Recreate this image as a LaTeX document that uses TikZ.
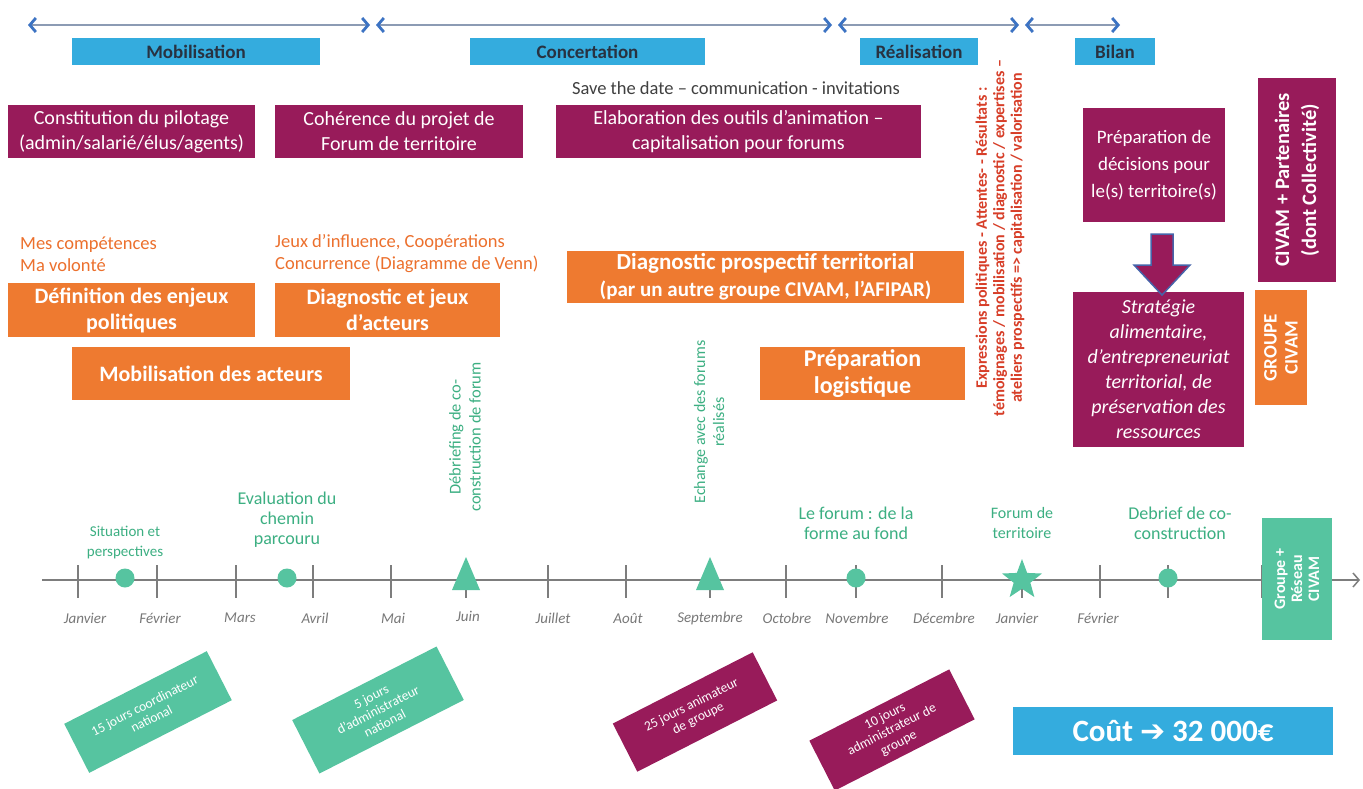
\documentclass[tikz,border=0pt]{standalone}
\usepackage{fontspec}
\setmainfont{Carlito}
\newfontfamily\dejavu{DejaVu Sans}
\usetikzlibrary{arrows.meta,shapes.geometric}
\definecolor{cpurple}{RGB}{152,27,90}
\definecolor{corange}{RGB}{238,122,48}
\definecolor{cblue}{RGB}{52,172,222}
\definecolor{cgreen}{RGB}{86,196,160}
\definecolor{cgtext}{RGB}{60,175,130}
\definecolor{cred}{RGB}{215,62,40}
\definecolor{cotext}{RGB}{236,112,45}
\definecolor{carrow}{RGB}{60,115,195}
\definecolor{cspan}{RGB}{140,155,180}
\definecolor{cline}{RGB}{125,125,125}
\definecolor{cmonth}{RGB}{120,120,120}
\definecolor{cphasetext}{RGB}{40,50,65}
\definecolor{cborder}{RGB}{70,100,170}
\begin{document}
\begin{tikzpicture}[x=1pt,y=-1pt,
  box/.style={inner sep=0pt, align=center, anchor=center},
  pbox/.style={box, fill=cpurple, text=white, font=\fontsize{20}{25}\selectfont},
  obox/.style={box, fill=corange, text=white, font=\fontsize{22}{26}\selectfont\bfseries},
  phase/.style={box, fill=cblue, text=cphasetext, minimum height=27pt, font=\fontsize{19}{22}\selectfont\bfseries},
  gtext/.style={text=cgtext, align=center, inner sep=0pt, font=\fontsize{15}{20}\selectfont},
  gbig/.style={gtext, font=\fontsize{18}{20}\selectfont},
  otext/.style={text=cotext, align=left, inner sep=0pt, anchor=west, font=\fontsize{18.5}{22}\selectfont},
  month/.style={text=cmonth, inner sep=0pt, font=\fontsize{15}{17}\selectfont\itshape},
  span/.style={draw=cspan, line width=1.2pt, {Straight Barb[length=6pt,width=14pt,line width=2.8pt,color=carrow]}-{Straight Barb[length=6pt,width=14pt,line width=2.8pt,color=carrow]}},
  tilt/.style={box, rotate=27, text=white, font=\fontsize{13.5}{15}\selectfont},
  marker/.style={fill=cgreen, draw=none},
  tick/.style={draw=cline, line width=1.2pt}
]
\useasboundingbox[fill=white] (0,0) rectangle (1363,788);

% top phase arrows
\coordinate (a0) at (28,25);  \coordinate (a1) at (370,25);
\coordinate (a2) at (376,25); \coordinate (a3) at (832,25);
\coordinate (a4) at (838,25); \coordinate (a5) at (1019,25);
\coordinate (a6) at (1025,25);\coordinate (a7) at (1120,25);
\draw[span] (a0) -- (a1);
\draw[span] (a2) -- (a3);
\draw[span] (a4) -- (a5);
\draw[span] (a6) -- (a7);

% phase boxes
\node[phase, minimum width=248pt] (ph1) at (196,51.5) {Mobilisation};
\node[phase, minimum width=235pt] (ph2) at (587.5,51.5) {Concertation};
\node[phase, minimum width=118pt] (ph3) at (919,51.5) {Réalisation};
\node[phase, minimum width=80pt] (ph4) at (1115,51.5) {Bilan};

% purple boxes
\node[gtext, text=black!75, font=\fontsize{18.5}{20}\selectfont] (save) at (736,88) {Save the date – communication - invitations};
\node[pbox, minimum width=247pt, minimum height=53pt] (pil) at (131.5,131.5) {Constitution du pilotage\\(admin/salarié/élus/agents)};
\node[pbox, minimum width=248pt, minimum height=53pt] (coh) at (399,131.5) {Cohérence du projet de\\Forum de territoire};
\node[pbox, minimum width=365pt, minimum height=53pt] (elab) at (738.5,131.5) {Elaboration des outils d’animation –\\capitalisation pour forums};
\node[pbox, minimum width=142pt, minimum height=114pt, font=\fontsize{19}{27}\selectfont] (prep) at (1154,165) {Préparation de\\décisions pour\\le(s) territoire(s)};
\node[pbox, rotate=90, minimum width=204pt, minimum height=78pt, font=\fontsize{20.5}{27}\selectfont\bfseries] (civ) at (1297,180) {CIVAM + Partenaires\\(dont Collectivité)};
\node[pbox, minimum width=171pt, minimum height=155pt, font=\fontsize{20}{25}\selectfont\itshape] (strat) at (1158.5,369.5) {Stratégie\\alimentaire,\\d’entrepreneuriat\\territorial, de\\préservation des\\ressources};

% block arrow
\draw[fill=cpurple, draw=cborder, line width=1.5pt, line join=miter]
  (1151,234) -- (1173,234) -- (1173,265) -- (1190,265) -- (1162,295) -- (1134,265) -- (1151,265) -- cycle;

% orange part
\node[otext] (comp) at (20,254) {Mes compétences\\Ma volonté};
\node[otext] (jeux) at (275,254) {Jeux d’influence, Coopérations\\Concurrence (Diagramme de Venn)};
\node[obox, minimum width=247pt, minimum height=54pt] (def) at (131.5,310) {Définition des enjeux\\politiques};
\node[obox, minimum width=225pt, minimum height=54pt] (diag) at (387.5,310) {Diagnostic et jeux\\d’acteurs};
\node[obox, minimum width=278pt, minimum height=53pt] (mob) at (211,373.5) {Mobilisation des acteurs};
\node[obox, minimum width=397pt, minimum height=52pt, font=\fontsize{23}{27}\selectfont\bfseries] (prosp) at (765.5,277) {Diagnostic prospectif territorial\\{\fontsize{21}{27}\selectfont (par un autre groupe CIVAM, l’AFIPAR)}};
\node[obox, minimum width=205pt, minimum height=53pt, font=\fontsize{24}{27}\selectfont\bfseries] (logis) at (862.5,373.5) {Préparation\\logistique};
\node[obox, rotate=90, minimum width=115pt, minimum height=52pt, font=\fontsize{19}{21}\selectfont\bfseries] (grp) at (1281,347.5) {GROUPE\\CIVAM};

% red vertical text
\node[inner sep=0pt, rotate=90, align=center, text=cred, font=\fontsize{16}{17.5}\selectfont\bfseries] (expr) at (1000,238)
  {Expressions politiques - Attentes- - Résultats :\\témoignages / mobilisation / diagnostic / expertises –\\ateliers prospectifs => capitalisation / valorisation};

% timeline
\coordinate (t0) at (42,580);
\coordinate (t1) at (1360,580);
\draw[draw=cline, line width=1.5pt, -{Straight Barb[length=6pt,width=14pt,line width=1.5pt]}] (t0) -- (t1);
\foreach \x in {78,157,236,313,391,466,548,626,710,786,856,942,1022,1100,1168,1262}
  \draw[tick] (\x,565) -- (\x,598);

% markers
\fill[marker] (125,578) circle (9.5);
\fill[marker] (287,578) circle (9.5);
\fill[marker] (466,557) -- (480,590) -- (452,590) -- cycle;
\fill[marker] (710,557) -- (724,590) -- (696,590) -- cycle;
\fill[marker] (856,578) circle (9.5);
\node[star, star points=5, star point ratio=2.4, marker, minimum size=42pt, inner sep=0pt] (star) at (1022,580) {};
\fill[marker] (1168,578) circle (9.5);

% timeline labels
\node[gtext] (l1) at (125,543) {Situation et\\perspectives};
\node[gbig] (l2) at (287,520) {Evaluation du\\chemin\\parcouru};
\node[gtext, rotate=90, font=\fontsize{16.5}{20}\selectfont] (l3) at (465,437) {Débriefing de co-\\construction de forum};
\node[gtext, rotate=90, font=\fontsize{16}{19}\selectfont] (l4) at (709,422) {Echange avec des forums\\réalisés};
\node[gbig] (l5) at (856,523) {Le forum : de la\\forme au fond};
\node[gtext, font=\fontsize{16}{20}\selectfont] (l6) at (1022,523) {Forum de\\territoire};
\node[gbig] (l7) at (1180,523) {Debrief de co-\\construction};

% months
\node[month] (m1) at (85,618) {Janvier};
\node[month] (m2) at (160,618) {Février};
\node[month] (m3) at (240,618) {Mars};
\node[month] (m4) at (315,618) {Avril};
\node[month] (m5) at (393,618) {Mai};
\node[month] (m6) at (468,616) {Juin};
\node[month] (m7) at (553,618) {Juillet};
\node[month] (m8) at (628,618) {Août};
\node[month] (m9) at (710,618) {Septembre};
\node[month] (m10) at (787,618) {Octobre};
\node[month] (m11) at (857,618) {Novembre};
\node[month] (m12) at (944,618) {Décembre};
\node[month] (m13) at (1017,618) {Janvier};
\node[month] (m14) at (1098,618) {Février};

% groupe reseau
\node[box, fill=cgreen, text=white, rotate=90, minimum width=122pt, minimum height=70pt, font=\fontsize{16}{17}\selectfont\bfseries] (res) at (1297,579) {Groupe +\\Réseau\\CIVAM};

% bottom tilted boxes
\node[tilt, fill=cgreen, minimum width=160pt, minimum height=55pt] (g1) at (148,712) {15 jours coordinateur\\national};
\node[tilt, fill=cgreen, minimum width=162pt, minimum height=60pt] (g2) at (378,710) {5 jours\\d’administrateur\\national};
\node[tilt, fill=cpurple, minimum width=157pt, minimum height=54pt] (p1) at (695,712) {25 jours animateur\\de groupe};
\node[tilt, fill=cpurple, minimum width=157pt, minimum height=56pt] (p2) at (892,730) {10 jours\\administrateur de\\groupe};

% cost
\node[box, fill=cblue, text=white, minimum width=320pt, minimum height=48pt, font=\fontsize{31}{32}\selectfont\bfseries] (cout) at (1173,731) {Coût {\dejavu\fontsize{30}{32}\selectfont ➔} 32 000€};
\end{tikzpicture}
\end{document}
